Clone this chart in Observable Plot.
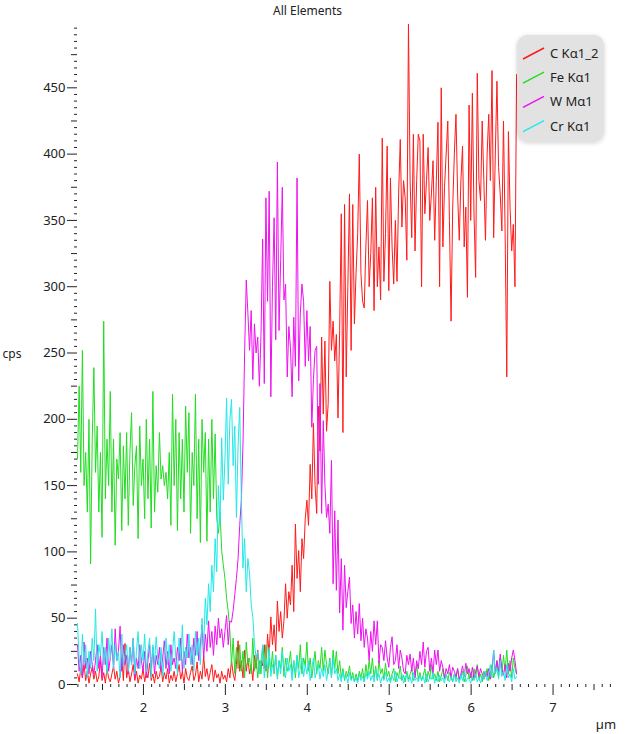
<!DOCTYPE html>
<html><head><meta charset="utf-8">
<script src="https://cdn.jsdelivr.net/npm/d3@7"></script>
<script src="https://cdn.jsdelivr.net/npm/@observablehq/plot@0.6"></script>
<style>body{margin:0;background:#fff;} svg{display:block}</style>
</head><body><div id="chart"></div>
<script>
const chartTitle = "All Elements";
const yLabel = "cps";
const xLabel = "µm";
const seriesNames = ["C Kα1_2", "Fe Kα1", "W Mα1", "Cr Kα1"];
const seriesColors = ["#ff1a1a", "#22dd22", "#ee11ee", "#22e8e8"];
const xStart = 1.195, xStep = 0.02;

const cKa = [
  8, 2, 12, 5, 15, 3, 10, 1, 8, 13,
  4, 10, 2, 6, 18, 3, 9, 1, 12, 5,
  2, 8, 14, 4, 10, 1, 6, 20, 3, 31,
  5, 12, 2, 8, 15, 3, 10, 1, 7, 4,
  12, 2, 9, 5, 16, 3, 8, 1, 10, 4,
  6, 14, 2, 9, 4, 12, 1, 7, 3, 10,
  2, 8, 15, 4, 10, 1, 12, 5, 3, 9,
  14, 3, 7, 17, 2, 10, 4, 22, 6, 12,
  3, 9, 15, 2, 11, 5, 8, 1, 10, 4,
  7, 2, 12, 5, 18, 8, 3, 15, 33, 10,
  18, 5, 26, 10, 20, 8, 15, 3, 22, 12,
  26, 8, 18, 14, 30, 10, 38, 22, 51, 30,
  45, 25, 63, 40, 55, 35, 48, 76, 50, 70,
  60, 90, 55, 121, 80, 101, 70, 110, 95, 125,
  139, 120, 166, 140, 197, 150, 129, 210, 176, 262,
  204, 259, 191, 212, 304, 252, 274, 244, 264, 201,
  267, 355, 190, 362, 232, 300, 370, 252, 362, 272,
  310, 340, 400, 310, 289, 284, 330, 365, 300, 325,
  367, 282, 375, 300, 330, 290, 412, 304, 340, 406,
  297, 382, 330, 302, 350, 304, 370, 411, 345, 380,
  367, 320, 498, 380, 337, 415, 327, 380, 415, 410,
  300, 415, 355, 380, 405, 350, 370, 395, 335, 380,
  424, 300, 450, 330, 375, 400, 425, 350, 274, 360,
  400, 430, 370, 335, 380, 406, 330, 360, 292, 437,
  350, 446, 355, 307, 461, 380, 365, 425, 380, 335,
  400, 430, 380, 463, 337, 400, 455, 390, 370, 342,
  425, 340, 232, 417, 360, 327, 347, 300, 460
];
const feKa = [
  170, 225, 160, 252, 150, 175, 130, 200, 91, 185,
  239, 160, 195, 130, 175, 111, 274, 140, 185, 150,
  221, 130, 185, 105, 170, 155, 190, 116, 180, 140,
  190, 120, 175, 205, 135, 165, 180, 110, 195, 150,
  170, 125, 200, 140, 185, 118, 221, 130, 165, 145,
  190, 155, 165, 150, 160, 140, 175, 120, 219, 150,
  200, 116, 190, 140, 185, 130, 210, 160, 205, 114,
  175, 150, 219, 125, 185, 107, 200, 160, 190, 108,
  185, 130, 200, 140, 189, 125, 114, 130, 101, 90,
  80, 65, 55, 40, 15, 35, 8, 28, 12, 30,
  10, 25, 5, 32, 15, 20, 8, 35, 10, 22,
  5, 18, 8, 28, 12, 30, 5, 20, 10, 25,
  8, 22, 5, 18, 12, 28, 6, 20, 10, 15,
  25, 8, 18, 5, 22, 12, 30, 8, 20, 14,
  32, 10, 20, 5, 15, 25, 8, 18, 12, 28,
  10, 26, 15, 8, 20, 5, 26, 12, 25, 8,
  18, 5, 12, 3, 10, 6, 14, 4, 9, 2,
  8, 3, 10, 5, 12, 2, 15, 6, 18, 8,
  20, 5, 14, 3, 18, 8, 12, 4, 16, 6,
  10, 3, 8, 12, 2, 9, 5, 14, 3, 7,
  2, 10, 4, 8, 12, 3, 6, 15, 4, 9,
  3, 7, 12, 2, 10, 5, 15, 4, 8, 3,
  10, 2, 6, 12, 4, 8, 3, 9, 5, 2,
  8, 4, 12, 3, 6, 10, 2, 7, 14, 4,
  9, 3, 12, 5, 15, 4, 8, 2, 10, 6,
  12, 3, 8, 15, 5, 10, 18, 6, 20, 8,
  22, 10, 26, 8, 18, 5, 20, 12, 8
];
const wMa = [
  30, 10, 22, 5, 32, 12, 20, 8, 25, 15,
  8, 18, 30, 12, 22, 5, 28, 15, 35, 10,
  20, 30, 12, 42, 18, 25, 44, 10, 30, 15,
  22, 8, 28, 15, 35, 5, 20, 12, 30, 18,
  10, 25, 5, 18, 30, 12, 28, 8, 22, 15,
  28, 10, 20, 33, 12, 25, 8, 30, 15, 20,
  12, 28, 18, 35, 10, 25, 15, 38, 20, 28,
  15, 35, 22, 40, 18, 30, 45, 20, 38, 25,
  48, 28, 40, 22, 44, 30, 50, 35, 42, 28,
  40, 52, 30, 48, 47, 56, 68, 80, 95, 120,
  139, 181, 250, 305, 280, 252, 282, 230, 272, 250,
  262, 225, 264, 336, 227, 367, 289, 372, 217, 300,
  352, 260, 394, 267, 320, 375, 290, 302, 232, 270,
  254, 217, 277, 240, 382, 229, 280, 302, 289, 240,
  282, 244, 270, 194, 230, 252, 255, 151, 227, 129,
  199, 151, 126, 136, 114, 169, 76, 131, 71, 124,
  54, 95, 41, 90, 58, 70, 81, 46, 60, 35,
  55, 38, 61, 33, 50, 28, 42, 35, 18, 40,
  25, 48, 30, 48, 16, 30, 28, 18, 33, 20,
  13, 28, 36, 15, 18, 30, 12, 26, 20, 10,
  8, 22, 15, 23, 10, 20, 5, 18, 12, 25,
  15, 32, 13, 25, 28, 10, 20, 8, 26, 15,
  26, 10, 18, 13, 5, 12, 8, 15, 5, 13,
  10, 6, 12, 4, 8, 14, 6, 16, 8, 12,
  5, 13, 4, 10, 14, 6, 12, 8, 4, 10,
  6, 12, 4, 10, 26, 8, 18, 10, 23, 12,
  7, 15, 5, 16, 10, 20, 26, 18, 8
];
const crKa = [
  46, 20, 8, 38, 15, 30, 5, 25, 12, 35,
  18, 57, 10, 30, 22, 40, 15, 28, 8, 35,
  20, 42, 12, 30, 18, 25, 5, 38, 14, 22,
  30, 10, 28, 15, 35, 8, 25, 40, 12, 30,
  18, 38, 10, 25, 35, 5, 30, 15, 36, 20,
  12, 28, 6, 22, 35, 15, 30, 10, 25, 40,
  20, 8, 35, 18, 45, 12, 28, 20, 38, 15,
  30, 10, 40, 22, 35, 15, 50, 28, 65, 45,
  76, 55, 90, 70, 110, 85, 150, 120, 186, 139,
  170, 216, 151, 200, 215, 165, 195, 126, 180, 209,
  140, 88, 110, 70, 95, 84, 60, 51, 31, 20,
  25, 8, 18, 30, 5, 20, 12, 28, 6, 15,
  10, 22, 4, 18, 8, 25, 12, 5, 20, 10,
  15, 3, 18, 8, 22, 5, 12, 20, 6, 15,
  8, 18, 3, 12, 20, 5, 10, 15, 4, 12,
  6, 15, 3, 10, 18, 5, 20, 8, 12, 3,
  8, 2, 10, 4, 7, 1, 9, 3, 6, 2,
  5, 1, 8, 3, 6, 2, 9, 4, 10, 3,
  7, 2, 12, 4, 8, 1, 6, 3, 9, 2,
  5, 1, 7, 3, 10, 2, 6, 4, 8, 1,
  4, 8, 2, 6, 1, 9, 3, 5, 2, 7,
  3, 6, 1, 8, 2, 5, 4, 9, 1, 6,
  2, 7, 3, 5, 1, 8, 4, 2, 6, 3,
  8, 2, 5, 1, 7, 3, 10, 2, 5, 4,
  1, 6, 3, 8, 2, 5, 1, 7, 4, 10,
  3, 8, 15, 5, 26, 8, 12, 4, 18, 6,
  10, 3, 15, 5, 8, 2, 12, 4, 6
];

const xMajorTicks = [2, 3, 4, 5, 6, 7];
const xMidTicks = [1.5, 2.5, 3.5, 4.5, 5.5, 6.5, 7.5];
const yMajorTicks = [0, 50, 100, 150, 200, 250, 300, 350, 400, 450];
const yMidTicks = [25, 75, 125, 175, 225, 275, 325, 375, 425, 475];

const xMinorTicks = d3.range(12, 78).filter(i => i % 5 !== 0).map(i => i / 10);
const yMinorTicks = d3.range(0, 500, 5).filter(v => v % 25 !== 0);

const seriesValues = [cKa, feKa, wMa, crKa];
const rows = seriesNames.flatMap((name, s) =>
  seriesValues[s].map((v, i) => ({series: name, x: xStart + i * xStep, y: v})));

const chart = Plot.plot({
  width: 642, height: 734,
  marginLeft: 77, marginRight: 28, marginTop: 25, marginBottom: 50,
  x: {domain: [1.195, 7.75], label: null},
  y: {domain: [0, 497], label: null},
  color: {domain: seriesNames, range: seriesColors},
  style: {fontFamily: "Noto Sans, sans-serif", fontSize: "13px", color: "#222", background: "#fff"},
  marks: [
    Plot.axisY({ticks: yMinorTicks, tickSize: 3, tickFormat: () => "", label: null}),
    Plot.axisY({ticks: yMidTicks, tickSize: 6, tickFormat: () => "", label: null}),
    Plot.axisY({ticks: yMajorTicks, tickSize: 10, tickPadding: 2, tickFormat: d => String(d), label: null}),
    Plot.axisX({ticks: xMinorTicks, tickSize: 3, tickFormat: () => "", label: null}),
    Plot.axisX({ticks: xMidTicks, tickSize: 6, tickFormat: () => "", label: null}),
    Plot.axisX({ticks: xMajorTicks, tickSize: 11, tickPadding: 7, tickFormat: d => String(d), label: null}),
    Plot.line(rows, {x: "x", y: "y", z: "series", stroke: "series", strokeWidth: 1})
  ]
});

const svg = d3.select(chart);
svg.append("text").attr("x", 307.5).attr("y", 15).attr("text-anchor", "middle")
  .attr("font-size", 12).attr("fill", "#222").text(chartTitle);
svg.append("text").attr("x", 12).attr("y", 358).attr("text-anchor", "middle")
  .attr("font-size", 12).attr("fill", "#222").text(yLabel);
svg.append("text").attr("x", 606).attr("y", 729).attr("text-anchor", "middle")
  .attr("font-size", 13).attr("fill", "#222").text(xLabel);

const defs = svg.append("defs");
const f = defs.append("filter").attr("id", "lgshadow").attr("x", "-20%").attr("y", "-20%").attr("width", "140%").attr("height", "140%");
f.append("feDropShadow").attr("dx", 0).attr("dy", 1).attr("stdDeviation", 2).attr("flood-color", "#000").attr("flood-opacity", 0.18);

const lg = svg.append("g");
lg.append("rect").attr("x", 517).attr("y", 35).attr("width", 87).attr("height", 107)
  .attr("rx", 10).attr("fill", "#e2e2e2").attr("filter", "url(#lgshadow)");
seriesNames.forEach((name, i) => {
  const cy = 53.5 + i * 24.2;
  lg.append("line").attr("x1", 523).attr("y1", cy + 5.5).attr("x2", 544).attr("y2", cy - 5.5)
    .attr("stroke", seriesColors[i]).attr("stroke-width", 1.5);
  lg.append("text").attr("x", 550).attr("y", cy).attr("dy", "0.35em")
    .attr("text-anchor", "start")
    .attr("font-size", 13).attr("fill", "#222").text(name);
});

document.getElementById("chart").appendChild(chart);
</script>
</body></html>
